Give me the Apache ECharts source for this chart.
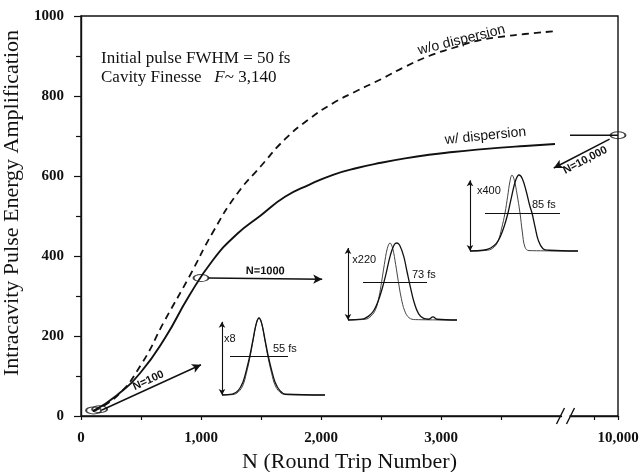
<!DOCTYPE html>
<html>
<head>
<meta charset="utf-8">
<script src="https://cdn.jsdelivr.net/npm/echarts@6.0.0/dist/echarts.min.js"></script>
<style>
  html, body { margin: 0; background: #fff; }
  #chart { width: 644px; height: 472px; }
</style>
</head>
<body>
<div id="chart"></div>
<script>
// main curves
var roundTrips = [100, 300, 500, 700, 900, 1100, 1300, 1500, 1700, 1900, 2100, 2300, 2500, 2700, 2900, 3100, 3300, 3500, 3700, 3950];
var ampNoDisp  = [12, 50, 128, 240, 347, 460, 555, 625, 692, 742, 782, 813, 842, 873, 900, 920, 938, 948, 955, 962];
var ampDisp    = [12, 52, 110, 195, 300, 390, 455, 502, 548, 578, 603, 620, 633, 644, 653, 660, 666, 671, 675, 680];
var tailTrips = [9600, 10000];
var tailAmp   = [702, 702];
var markTrips = [105, 155, 1000, 10000];
var markAmp   = [14, 17, 345, 702];

var xTickVals  = [0, 500, 1000, 1500, 2000, 2500, 3000, 3500, 9800, 10000];
var xLabelVals = [0, 1000, 2000, 3000, 10000];
var xBreak = { start: 4000, end: 9600, gap: 75 };

// pulse insets (time in fs, normalised intensity)
var p1T   = [-111, -80, -62, -48, -38, -28, -18, -8, 0, 8, 18, 28, 38, 48, 62, 80, 198];
var p1Out = [0, 0.01, 0.06, 0.17, 0.32, 0.5, 0.72, 0.93, 1, 0.93, 0.72, 0.5, 0.32, 0.17, 0.06, 0.01, 0];
var p1In  = [0, 0.005, 0.04, 0.13, 0.28, 0.47, 0.7, 0.93, 1, 0.93, 0.7, 0.47, 0.28, 0.13, 0.04, 0.005, 0];

var p2T    = [-147, -105, -85, -70, -57, -45, -33, -20, -8, 0, 8, 20, 30, 40, 52, 65, 80, 95, 108, 120, 180];
var p2Out  = [0, 0.01, 0.05, 0.12, 0.24, 0.4, 0.6, 0.84, 0.98, 1, 0.97, 0.83, 0.63, 0.43, 0.22, 0.08, 0.02, 0.01, 0.04, 0.01, 0];
var p2InT  = [-147, -95, -78, -64, -54, -46, -38, -29, -21, -13, -4, 4, 13, 23, 36, 55, 180];
var p2In   = [0, 0.01, 0.05, 0.14, 0.3, 0.5, 0.72, 0.93, 1, 0.93, 0.72, 0.5, 0.28, 0.12, 0.03, 0.005, 0];

var p3T    = [-147, -108, -85, -68, -55, -44, -33, -22, -10, 0, 10, 22, 32, 39, 48, 58, 72, 90, 177];
var p3Out  = [0, 0.01, 0.04, 0.1, 0.2, 0.33, 0.5, 0.72, 0.93, 1, 0.95, 0.78, 0.6, 0.5, 0.32, 0.14, 0.03, 0.01, 0];
var p3InT  = [-147, -95, -75, -62, -52, -42, -34, -27, -21, -14, -6, 3, 10, 18, 30, 177];
var p3In   = [0, 0.01, 0.05, 0.14, 0.3, 0.5, 0.72, 0.92, 1, 0.93, 0.75, 0.5, 0.25, 0.05, 0.005, 0];

var insetGain  = ['x8', 'x220', 'x400'];
var insetFwhm  = ['55 fs', '73 fs', '85 fs'];

function zip (a, b) {
  return a.map(function (v, i) { return [v, b[i]] })
}

var serif = 'Liberation Serif';
var sans = 'Liberation Sans';
var ink = '#111';

var insets = [
  { box: { left: 222, top: 318, width: 103, height: 77 }, min: -111, max: 198, out: zip(p1T, p1Out), inp: zip(p1T, p1In),
    bar: 0.95, fwhm: [-87, 87, 0.5], gainAt: [-105, 0.73], fwhmAt: [42, 0.6] },
  { box: { left: 348, top: 243, width: 109, height: 77 }, min: -147, max: 180, out: zip(p2T, p2Out), inp: zip(p2InT, p2In),
    bar: 0.935, fwhm: [-102, 90, 0.49], gainAt: [-134, 0.78], fwhmAt: [45, 0.58] },
  { box: { left: 470, top: 175, width: 108, height: 76 }, min: -147, max: 177, out: zip(p3T, p3Out), inp: zip(p3InT, p3In),
    bar: 0.93, fwhm: [-102, 123, 0.5], gainAt: [-126, 0.79], fwhmAt: [39, 0.6] }
]

var grids = [{
  left: 81, top: 16, right: 26, bottom: 56, outerBoundsMode: 'none',
  show: true, borderColor: ink, borderWidth: 1.4, backgroundColor: 'transparent'
}];
var xAxes = [{
  type: 'value', min: 0, max: 10000, interval: 500,
  breaks: [xBreak],
  breakArea: { show: false },
  name: 'N (Round Trip Number)', nameLocation: 'middle', nameGap: 33,
  nameTextStyle: { fontFamily: serif, fontSize: 22, color: ink },
  axisLine: { lineStyle: { color: ink, width: 1.4 } },
  axisTick: { customValues: xTickVals, length: 4, lineStyle: { color: ink, width: 1.2 } },
  axisLabel: {
    customValues: xLabelVals, margin: 15,
    fontFamily: serif, fontWeight: 'bold', fontSize: 15, color: ink,
    formatter: function (v) { return v.toLocaleString('en-US') }
  },
  splitLine: { show: false }
}];
var yAxes = [{
  type: 'value', min: 0, max: 1000, interval: 200,
  name: 'Intracavity Pulse Energy Amplification', nameLocation: 'middle', nameGap: 50,
  nameTextStyle: { fontFamily: serif, fontSize: 22, color: ink, padding: [0, 0, 0, 26] },
  axisLine: { lineStyle: { color: ink, width: 1.4 } },
  axisTick: { length: 7, lineStyle: { color: ink, width: 1.2 } },
  minorTick: { show: true, splitNumber: 2, length: 5, lineStyle: { color: ink, width: 1.2 } },
  axisLabel: {
    margin: 17, fontFamily: serif, fontWeight: 'bold', fontSize: 15, color: ink,
    formatter: function (v) { return String(v) }
  },
  splitLine: { show: false }
}];

var series = [
  {
    name: 'w/o dispersion', type: 'line', xAxisIndex: 0, yAxisIndex: 0,
    data: zip(roundTrips, ampNoDisp), smooth: true, showSymbol: false,
    lineStyle: { color: ink, width: 1.8, type: [7, 5] },
    markPoint: {
      symbol: 'circle', symbolSize: 0,
      label: { show: true, position: 'inside', formatter: '{b}', fontFamily: sans, fontSize: 14, color: ink },
      data: [{ name: 'w/o dispersion', coord: [3170, 940], label: { rotate: 14 } }]
    }
  },
  {
    name: 'w/ dispersion', type: 'line', xAxisIndex: 0, yAxisIndex: 0,
    data: zip(roundTrips, ampDisp), smooth: true, showSymbol: false,
    lineStyle: { color: ink, width: 1.9 },
    markPoint: {
      symbol: 'circle', symbolSize: 0,
      label: { show: true, position: 'inside', formatter: '{b}', fontFamily: sans, fontSize: 14, color: ink },
      data: [{ name: 'w/ dispersion', coord: [3370, 700], label: { rotate: 6 } }]
    }
  },
  {
    name: 'tail', type: 'line', xAxisIndex: 0, yAxisIndex: 0,
    data: zip(tailTrips, tailAmp), showSymbol: false,
    lineStyle: { color: ink, width: 1.6 }
  },
  {
    name: 'marks', type: 'scatter', xAxisIndex: 0, yAxisIndex: 0,
    data: zip(markTrips, markAmp), symbol: 'circle', symbolSize: [15, 7],
    itemStyle: { color: 'rgba(255,255,255,0)', borderColor: ink, borderWidth: 1.4 },
    z: 5
  },
  {
    name: 'arrows', type: 'line', xAxisIndex: 0, yAxisIndex: 0, data: [],
    markLine: {
      silent: true, symbol: ['none', 'arrow'], symbolSize: [7, 9],
      lineStyle: { color: ink, width: 1.5, type: 'solid' },
      label: { show: true, fontFamily: sans, fontWeight: 'bold', fontSize: 11, color: ink, distance: 2 },
      data: [
        [{ coord: [175, 15], label: { formatter: 'N=100', position: 'insideMiddleTop' } }, { coord: [1000, 128] }],
        [{ coord: [1060, 345], label: { formatter: 'N=1000', position: 'insideMiddleTop' } }, { coord: [2010, 342] }],
        [{ coord: [9930, 692], label: { formatter: 'N=10,000', position: 'insideMiddleBottom' } }, { coord: [3940, 620] }]
      ]
    }
  }
];

insets.forEach(function (s, k) {
  var gi = k + 1;
  grids.push(Object.assign({ outerBoundsMode: 'none' }, s.box));
  xAxes.push({ type: 'value', gridIndex: gi, min: s.min, max: s.max, show: false });
  yAxes.push({ type: 'value', gridIndex: gi, min: 0, max: 1, show: false });
  series.push({
    type: 'line', xAxisIndex: gi, yAxisIndex: gi, data: s.inp, smooth: 0.4, showSymbol: false, clip: false,
    lineStyle: { color: '#444', width: 1 }
  });
  series.push({
    type: 'line', xAxisIndex: gi, yAxisIndex: gi, data: s.out, smooth: 0.4, showSymbol: false, clip: false,
    lineStyle: { color: ink, width: 1.3 },
    markLine: {
      silent: true, symbol: 'none', label: { show: false },
      lineStyle: { color: ink, width: 1.1, type: 'solid' },
      data: [
        [{ coord: [s.min, 0], symbol: 'arrow' }, { coord: [s.min, s.bar], symbol: 'arrow' }],
        [{ coord: [s.fwhm[0], s.fwhm[2]] }, { coord: [s.fwhm[1], s.fwhm[2]] }]
      ],
      symbolSize: [5, 6]
    },
    markPoint: {
      symbol: 'circle', symbolSize: 0,
      label: { show: true, position: 'right', distance: 0, formatter: '{b}', fontFamily: sans, fontSize: 11, color: ink },
      data: [
        { name: insetGain[k], coord: s.gainAt },
        { name: insetFwhm[k], coord: s.fwhmAt }
      ]
    }
  });
});

var chart = echarts.init(document.getElementById('chart'));
chart.setOption({
  animation: false,
  backgroundColor: '#fff',
  textStyle: { fontFamily: serif, color: ink },
  grid: grids,
  xAxis: xAxes,
  yAxis: yAxes,
  series: series
});

// "//" mark on the x axis where the break sits, plus the run conditions note
var xa = chart.convertToPixel({ xAxisIndex: 0 }, xBreak.start);
var xb = chart.convertToPixel({ xAxisIndex: 0 }, xBreak.end);
var y0 = chart.convertToPixel({ yAxisIndex: 0 }, 0);
var mid = (xa + xb) / 2;
chart.setOption({
  graphic: [
    {
      type: 'text', left: 101, top: 50,
      style: { text: 'Initial pulse FWHM = 50 fs', font: '17px "Liberation Serif"', fill: ink }
    },
    {
      type: 'text', left: 101, top: 69,
      style: {
        text: 'Cavity Finesse   {i|F}{n|~ 3,140}',
        font: '17px "Liberation Serif"', fill: ink,
        rich: {
          i: { font: 'italic 17px "Liberation Serif"', fill: ink },
          n: { font: '17px "Liberation Serif"', fill: ink }
        }
      }
    },
    {
      type: 'group', children: [
        { type: 'rect', shape: { x: mid - 4, y: y0 - 3, width: 8, height: 6 }, style: { fill: '#fff' } },
        { type: 'line', shape: { x1: mid - 9, y1: y0 + 8, x2: mid - 1, y2: y0 - 8 }, style: { stroke: ink, lineWidth: 1.4 } },
        { type: 'line', shape: { x1: mid + 1, y1: y0 + 8, x2: mid + 9, y2: y0 - 8 }, style: { stroke: ink, lineWidth: 1.4 } }
      ]
    }
  ]
});
</script>
</body>
</html>
